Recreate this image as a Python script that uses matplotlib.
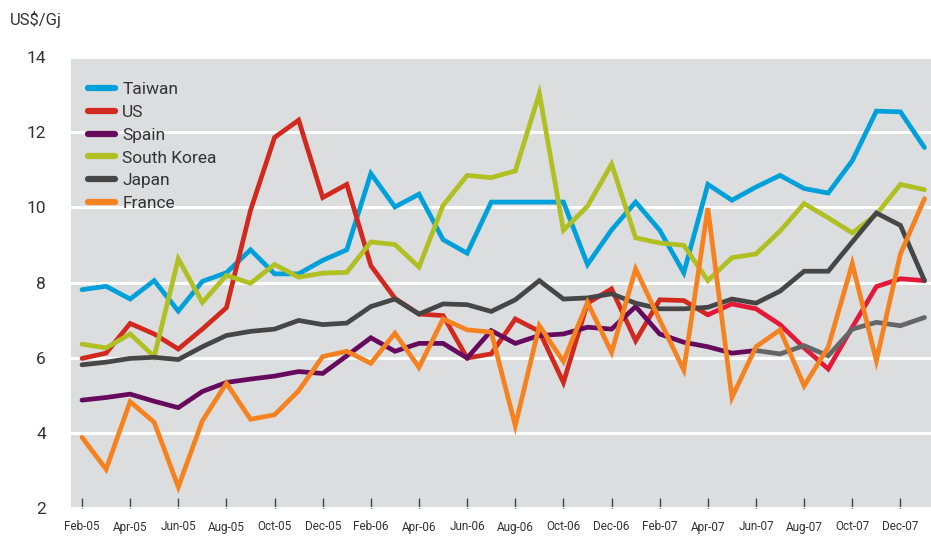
import matplotlib
matplotlib.use("Agg")
import matplotlib.pyplot as plt
import numpy as np

# monthly prices, Feb-05 .. Jan-08 (US$/Gj)
months = ["Feb-05", "Mar-05", "Apr-05", "May-05", "Jun-05", "Jul-05", "Aug-05", "Sep-05",
          "Oct-05", "Nov-05", "Dec-05", "Jan-06", "Feb-06", "Mar-06", "Apr-06", "May-06",
          "Jun-06", "Jul-06", "Aug-06", "Sep-06", "Oct-06", "Nov-06", "Dec-06", "Jan-07",
          "Feb-07", "Mar-07", "Apr-07", "May-07", "Jun-07", "Jul-07", "Aug-07", "Sep-07",
          "Oct-07", "Nov-07", "Dec-07", "Jan-08"]

taiwan = [7.81, 7.90, 7.56, 8.05, 7.24, 8.03, 8.26, 8.87, 8.23, 8.23, 8.59, 8.87,
          10.90, 10.01, 10.35, 9.14, 8.78, 10.14, 10.14, 10.14, 10.14, 8.48, 9.40, 10.14,
          9.39, 8.26, 10.61, 10.19, 10.54, 10.85, 10.50, 10.38, 11.24, 12.56, 12.54, 11.59]
us = [5.98, 6.12, 6.91, 6.63, 6.23, 6.76, 7.33, 9.92, 11.86, 12.32, 10.26, 10.61,
      8.45, 7.58, 7.16, 7.12, 5.99, 6.10, 7.03, 6.70, 5.34, 7.45, 7.83, 6.45,
      7.54, 7.52, 7.14, 7.43, 7.30, 6.88, 6.26, 5.70, 6.81, 7.89, 8.10, 8.05]
spain = [4.87, 4.94, 5.03, 4.84, 4.67, 5.10, 5.34, 5.43, 5.51, 5.63, 5.58, 6.05,
         6.53, 6.17, 6.38, 6.38, 5.99, 6.72, 6.38, 6.59, 6.63, 6.81, 6.76, 7.36,
         6.63, 6.41, 6.29, 6.12, 6.19, 6.10, 6.32, 6.05, 6.76, 6.94, 6.85, 7.07]
south_korea = [6.36, 6.26, 6.63, 6.03, 8.63, 7.47, 8.19, 7.98, 8.48, 8.14, 8.25, 8.27,
               9.08, 9.01, 8.41, 10.05, 10.85, 10.79, 10.97, 13.03, 9.39, 10.03, 11.15, 9.19,
               9.05, 8.99, 8.05, 8.66, 8.76, 9.37, 10.10, 9.72, 9.32, 9.81, 10.61, 10.47]
japan = [5.81, 5.88, 5.98, 6.01, 5.95, 6.29, 6.59, 6.70, 6.76, 6.99, 6.88, 6.92,
         7.36, 7.56, 7.16, 7.43, 7.41, 7.23, 7.54, 8.05, 7.56, 7.59, 7.70, 7.45,
         7.30, 7.30, 7.34, 7.56, 7.45, 7.77, 8.30, 8.30, 9.08, 9.85, 9.52, 8.05]
france = [3.88, 3.03, 4.83, 4.28, 2.56, 4.32, 5.32, 4.36, 4.48, 5.12, 6.03, 6.17,
          5.85, 6.65, 5.74, 7.03, 6.74, 6.68, 4.19, 6.85, 5.90, 7.47, 6.14, 8.36,
          7.00, 5.67, 9.98, 4.94, 6.29, 6.74, 5.25, 6.28, 8.50, 5.92, 8.76, 10.23]

# the source changes the colour of two lines part way through
us_switch = 26      # Apr-07
spain_switch = 28   # Jun-07

colors = {
    "Taiwan": "#00a0db",
    "US": "#d2291f",
    "Spain": "#660a5e",
    "South Korea": "#b0bf22",
    "Japan": "#464646",
    "France": "#f5821f",
}

plt.rcParams["font.family"] = ["Roboto", "DejaVu Sans"]

fig = plt.figure(figsize=(9.31, 5.38), dpi=100)
ax = fig.add_axes([71 / 931, 1 - 508 / 538, 1 - 71 / 931, (508 - 57) / 538])
ax.set_facecolor("#dcdddf")

x = np.arange(len(months))
lw = 3.4
style = dict(lw=lw, solid_joinstyle="miter", solid_capstyle="round")
series = [("Taiwan", taiwan), ("US", us), ("Spain", spain),
          ("South Korea", south_korea), ("Japan", japan), ("France", france)]
handles = {}
for name, vals in series:
    if name == "US":
        line, = ax.plot(x[:us_switch + 1], vals[:us_switch + 1], color=colors[name], **style)
        ax.plot(x[us_switch:], vals[us_switch:], color="#e3193a", **style)
    elif name == "Spain":
        line, = ax.plot(x[:spain_switch + 1], vals[:spain_switch + 1], color=colors[name], **style)
        ax.plot(x[spain_switch:], vals[spain_switch:], color="#666666", **style)
    else:
        line, = ax.plot(x, vals, color=colors[name], **style)
    handles[name] = line

ax.set_xlim(-0.457, 35.27)
ax.set_ylim(2, 14)
ax.set_yticks([2, 4, 6, 8, 10, 12, 14])
ax.set_xticks(x[::2])
ax.set_xticklabels(months[::2])

ax.grid(axis="y", color="white", lw=2.2)
ax.set_axisbelow(True)
for s in ax.spines.values():
    s.set_visible(False)

ax.tick_params(axis="y", length=0, pad=18, labelsize=12.5, labelcolor="#333333")
ax.tick_params(axis="x", direction="in", length=7.5, width=1, color="#444444",
               pad=9, labelsize=8.5, labelcolor="#333333")

names = ["Taiwan", "US", "Spain", "South Korea", "Japan", "France"]
leg = ax.legend([handles[n] for n in names], names, loc="upper left",
                bbox_to_anchor=(0.0, 0.983), frameon=False, fontsize=12.5,
                handlelength=1.55, handletextpad=0.4, labelspacing=0.44,
                borderaxespad=0.6)
for h in leg.get_lines():
    h.set_linewidth(4.5)
for t in leg.get_texts():
    t.set_color("#333333")

fig.text(10 / 931, 1 - 20 / 538, "US$/Gj", fontsize=12, color="#333333", va="center")

fig.savefig("out.png", dpi=100)
